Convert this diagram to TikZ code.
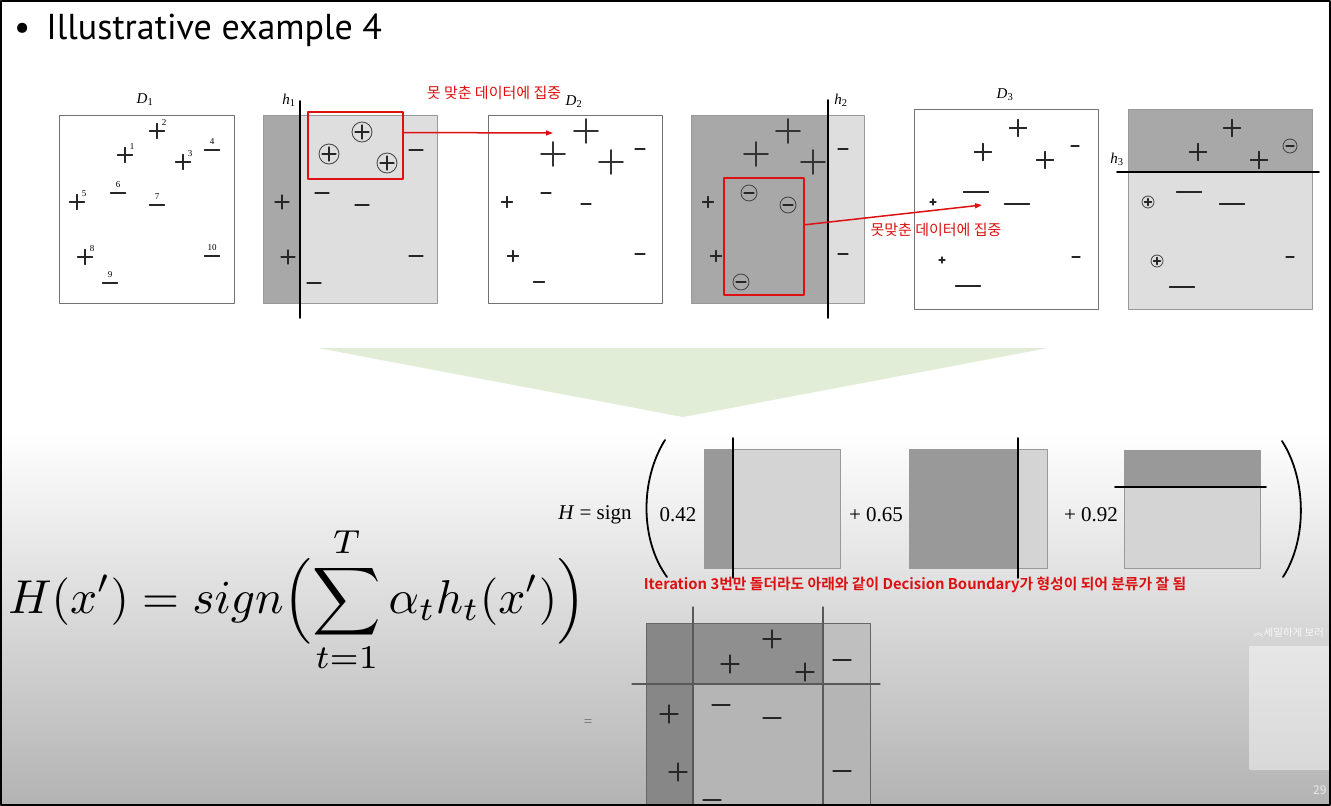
\documentclass[tikz,border=0pt]{standalone}
\usepackage{amsmath}
\usepackage{fontspec}
\usetikzlibrary{arrows.meta}
\newfontfamily\krfont[BoldFont={Noto Sans CJK KR Bold}]{Noto Sans CJK KR}
\newfontfamily\tmsfont{Liberation Serif}
\newfontfamily\ttlfont{PT Sans}
\definecolor{missred}{HTML}{DD1111}
\definecolor{funnel}{HTML}{E2EDD8}
\begin{document}
\begin{tikzpicture}[line cap=round,line join=round,x=1pt,y=-1pt,
    sgn/.style={line width=1.3pt,color=black!85},
    bigsgn/.style={line width=1.7pt,color=black!80},
    ring/.style={line width=0.8pt,color=black!75},
    frame/.style={draw=black!55,line width=1pt},
    sframe/.style={draw=black!40,line width=1pt},
    dark/.style={fill=black!34},
    light/.style={fill=black!13},
    bound/.style={line width=1.6pt,color=black},
    miss/.style={draw=missred,line width=2pt,inner sep=0pt},
    focus/.style={color=missred,line width=1.5pt,-{Triangle[length=7pt,width=5pt]}},
    note/.style={text=missred,font=\krfont\fontsize{15}{16}\selectfont},
    lbl/.style={font=\tmsfont\fontsize{15}{15}\selectfont},
    idx/.style={font=\tmsfont\fontsize{9}{9}\selectfont,inner sep=0pt},
    coef/.style={font=\tmsfont\fontsize{21}{21}\selectfont}]
    \useasboundingbox (0,0) rectangle (1331,806);
    \fill [white] (0,0) rectangle (1331,430);
    \shade [top color=white,bottom color=black!30] (0,430) rectangle (1331,806);
    % title
    \node [font=\ttlfont\fontsize{36}{40}\selectfont,anchor=base west,inner sep=0pt] (title) at (14,39) {\textbullet\hspace{16pt}Illustrative example 4};
    % D1
    \draw [frame] (59,115) rectangle (234,303);
    \node [lbl] (labD1) at (145,100) {\textit{D}\textsubscript{1}};
    \draw [sgn] (125,155) +(-7.5,0) -- +(7.5,0) +(0,-7.5) -- +(0,7.5);
    \draw [sgn] (157,131) +(-7.5,0) -- +(7.5,0) +(0,-7.5) -- +(0,7.5);
    \draw [sgn] (183,162) +(-7.5,0) -- +(7.5,0) +(0,-7.5) -- +(0,7.5);
    \draw [sgn] (212,150) +(-7.5,0) -- +(7.5,0);
    \draw [sgn] (77,202) +(-7.5,0) -- +(7.5,0) +(0,-7.5) -- +(0,7.5);
    \draw [sgn] (118,193) +(-7.5,0) -- +(7.5,0);
    \draw [sgn] (157,205) +(-7.5,0) -- +(7.5,0);
    \draw [sgn] (85,257) +(-7.5,0) -- +(7.5,0) +(0,-7.5) -- +(0,7.5);
    \draw [sgn] (110,283) +(-7.5,0) -- +(7.5,0);
    \draw [sgn] (212,256) +(-7.5,0) -- +(7.5,0);
    \node [idx] (n1) at (132,147) {1};
    \node [idx] (n2) at (164,123) {2};
    \node [idx] (n3) at (190,154) {3};
    \node [idx] (n4) at (212,142) {4};
    \node [idx] (n5) at (84,194) {5};
    \node [idx] (n6) at (118,185) {6};
    \node [idx] (n7) at (157,197) {7};
    \node [idx] (n8) at (92,249) {8};
    \node [idx] (n9) at (110,275) {9};
    \node [idx] (n10) at (212,248) {10};
    % h1
    \fill [dark] (263,115) rectangle (300,303);
    \fill [light] (300,115) rectangle (437,303);
    \draw [sframe] (263,115) rectangle (437,303);
    \draw [bound] (300,101) -- (300,318);
    \node [lbl] (labh1) at (289,100) {\textit{h}\textsubscript{1}};
    \draw [ring] (362,132) circle (10) (329,154) circle (10) (387,163) circle (10);
    \draw [sgn] (362,132) +(-7,0) -- +(7,0) +(0,-7) -- +(0,7);
    \draw [sgn] (329,154) +(-7,0) -- +(7,0) +(0,-7) -- +(0,7);
    \draw [sgn] (387,163) +(-7,0) -- +(7,0) +(0,-7) -- +(0,7);
    \draw [sgn] (416,150) +(-7,0) -- +(7,0);
    \draw [sgn] (322,193) +(-7,0) -- +(7,0);
    \draw [sgn] (362,205) +(-7,0) -- +(7,0);
    \draw [sgn] (282,202) +(-7,0) -- +(7,0) +(0,-7) -- +(0,7);
    \draw [sgn] (288,257) +(-7,0) -- +(7,0) +(0,-7) -- +(0,7);
    \draw [sgn] (314,283) +(-7,0) -- +(7,0);
    \draw [sgn] (416,256) +(-7,0) -- +(7,0);
    % D2
    \draw [frame] (488,115) rectangle (662,303);
    \node [lbl] (labD2) at (574,102) {\textit{D}\textsubscript{2}};
    \draw [bigsgn] (586,131) +(-12,0) -- +(12,0) +(0,-12) -- +(0,12);
    \draw [bigsgn] (553,154) +(-12,0) -- +(12,0) +(0,-12) -- +(0,12);
    \draw [bigsgn] (611,162) +(-12,0) -- +(12,0) +(0,-12) -- +(0,12);
    \draw [sgn] (640,149) +(-5,0) -- +(5,0);
    \draw [sgn] (546,193) +(-5,0) -- +(5,0);
    \draw [sgn] (586,204) +(-5,0) -- +(5,0);
    \draw [sgn] (507,202) +(-5.5,0) -- +(5.5,0) +(0,-5.5) -- +(0,5.5);
    \draw [sgn] (513,256) +(-5.5,0) -- +(5.5,0) +(0,-5.5) -- +(0,5.5);
    \draw [sgn] (640,254) +(-5,0) -- +(5,0);
    \draw [sgn] (539,282) +(-5.5,0) -- +(5.5,0);
    % h2
    \fill [dark] (691,115) rectangle (828,303);
    \fill [light] (828,115) rectangle (864,303);
    \draw [sframe] (691,115) rectangle (864,303);
    \draw [bound] (828,100) -- (828,318);
    \node [lbl] (labh2) at (841,100) {\textit{h}\textsubscript{2}};
    \draw [bigsgn] (788,131) +(-12,0) -- +(12,0) +(0,-12) -- +(0,12);
    \draw [bigsgn] (756,154) +(-12,0) -- +(12,0) +(0,-12) -- +(0,12);
    \draw [bigsgn] (813,162) +(-12,0) -- +(12,0) +(0,-12) -- +(0,12);
    \draw [sgn] (843,149) +(-5,0) -- +(5,0);
    \draw [sgn] (843,254) +(-5,0) -- +(5,0);
    \draw [sgn] (708,202) +(-5.5,0) -- +(5.5,0) +(0,-5.5) -- +(0,5.5);
    \draw [sgn] (716,256) +(-5.5,0) -- +(5.5,0) +(0,-5.5) -- +(0,5.5);
    \draw [ring] (749,193) circle (8) (788,205) circle (8) (741,282) circle (8);
    \draw [sgn] (749,193) +(-5,0) -- +(5,0);
    \draw [sgn] (788,205) +(-5,0) -- +(5,0);
    \draw [sgn] (741,282) +(-5,0) -- +(5,0);
    % D3
    \draw [frame] (914,109) rectangle (1098,309);
    \node [lbl] (labD3) at (1005,95) {\textit{D}\textsubscript{3}};
    \draw [sgn] (1018,128) +(-8.5,0) -- +(8.5,0) +(0,-8.5) -- +(0,8.5);
    \draw [sgn] (983,152) +(-8.5,0) -- +(8.5,0) +(0,-8.5) -- +(0,8.5);
    \draw [sgn] (1045,160) +(-8.5,0) -- +(8.5,0) +(0,-8.5) -- +(0,8.5);
    \draw [sgn] (1075,146) +(-4,0) -- +(4,0);
    \draw [sgn] (1076,257) +(-4,0) -- +(4,0);
    \draw [sgn] (976,192) +(-12.5,0) -- +(12.5,0);
    \draw [sgn] (1017,204) +(-12.5,0) -- +(12.5,0);
    \draw [sgn] (968,286) +(-12.5,0) -- +(12.5,0);
    \draw [sgn] (933,202) +(-3,0) -- +(3,0) +(0,-3) -- +(0,3);
    \draw [sgn] (942,260) +(-3,0) -- +(3,0) +(0,-3) -- +(0,3);
    % h3
    \fill [dark] (1128,109) rectangle (1312,172);
    \fill [light] (1128,172) rectangle (1312,309);
    \draw [sframe] (1128,109) rectangle (1312,309);
    \draw [bound] (1117,172) -- (1319,172);
    \node [lbl] (labh3) at (1117,159) {\textit{h}\textsubscript{3}};
    \draw [sgn] (1232,128) +(-8.5,0) -- +(8.5,0) +(0,-8.5) -- +(0,8.5);
    \draw [sgn] (1198,152) +(-8.5,0) -- +(8.5,0) +(0,-8.5) -- +(0,8.5);
    \draw [sgn] (1259,160) +(-8.5,0) -- +(8.5,0) +(0,-8.5) -- +(0,8.5);
    \draw [ring] (1290,146) circle (7) (1148,202) circle (6) (1157,261) circle (6);
    \draw [sgn] (1290,146) +(-4,0) -- +(4,0);
    \draw [sgn] (1148,202) +(-3.5,0) -- +(3.5,0) +(0,-3.5) -- +(0,3.5);
    \draw [sgn] (1157,261) +(-3.5,0) -- +(3.5,0) +(0,-3.5) -- +(0,3.5);
    \draw [sgn] (1189,192) +(-12.5,0) -- +(12.5,0);
    \draw [sgn] (1232,204) +(-12.5,0) -- +(12.5,0);
    \draw [sgn] (1182,287) +(-12.5,0) -- +(12.5,0);
    \draw [sgn] (1290,257) +(-4,0) -- +(4,0);
    % red marks
    \node [miss,minimum width=95pt,minimum height=67pt] (miss1) at (355.5,145.5) {};
    \node [miss,minimum width=80pt,minimum height=117pt] (miss2) at (764,236.5) {};
    \coordinate (tgt1) at (553,133);
    \coordinate (tgt2) at (982,205);
    \draw [focus] (miss1.15) -- (tgt1);
    \draw [focus] (miss2.16) -- (tgt2);
    \node [note] (note1) at (494,93) {못 맞춘 데이터에 집중};
    \node [note] (note2) at (936,230) {못맞춘 데이터에 집중};
    % funnel
    \fill [funnel] (318,348) -- (1048,348) -- (683,417) -- cycle;
    % weighted sum
    \node [coef] (Hsign) at (595,515) {\textit{H} = sign};
    \draw [line width=1.8pt] (665,440) .. controls (640,480) and (640,540) .. (667,577);
    \draw [line width=1.8pt] (1282,441) .. controls (1307,480) and (1307,540) .. (1283,577);
    \node [coef] (c1) at (678,515) {0.42};
    \fill [black!40] (704,449) rectangle (733,568);
    \fill [black!17] (733,449) rectangle (840,568);
    \draw [sframe] (704,449) rectangle (840,568);
    \draw [bound] (733,438) -- (733,578);
    \node [coef] (c2) at (876,515) {+ 0.65};
    \fill [black!40] (909,449) rectangle (1018,568);
    \fill [black!17] (1018,449) rectangle (1047,568);
    \draw [sframe] (909,449) rectangle (1047,568);
    \draw [bound] (1018,438) -- (1018,578);
    \node [coef] (c3) at (1091,515) {+ 0.92};
    \fill [black!40] (1124,450) rectangle (1260,487);
    \fill [black!17] (1124,487) rectangle (1260,568);
    \draw [sframe] (1124,450) rectangle (1260,568);
    \draw [bound] (1115,487) -- (1266,487);
    \node [note,font=\krfont\bfseries\fontsize{14.8}{15}\selectfont] (note3) at (915,585) {Iteration 3번만 돌더라도 아래와 같이 Decision Boundary가 형성이 되어 분류가 잘 됨};
    % final formula
    \node [scale=4.75,inner sep=0pt] (Hsum) at (297,600) {$\displaystyle H(x')=sign\Bigl(\sum_{t=1}^{T}\alpha_t h_t(x')\Bigr)$};
    % combined classifier
    \node [font=\tmsfont\fontsize{15}{15}\selectfont,text=black!60] (eq) at (588,723) {=};
    \fill [black!47] (646,623) rectangle (693,806);
    \fill [black!44] (693,623) rectangle (823,684);
    \fill [black!25] (823,623) rectangle (870,684);
    \fill [black!29] (693,684) rectangle (870,806);
    \draw [draw=black!60,line width=1pt] (646,806) -- (646,623) -- (870,623) -- (870,806);
    \draw [line width=1.2pt,black!65] (693,607) -- (693,806) (823,607) -- (823,806) (632,684) -- (880,684);
    \draw [sgn] (772,639) +(-9,0) -- +(9,0) +(0,-9) -- +(0,9);
    \draw [sgn] (730,664) +(-9,0) -- +(9,0) +(0,-9) -- +(0,9);
    \draw [sgn] (805,672) +(-9,0) -- +(9,0) +(0,-9) -- +(0,9);
    \draw [sgn] (842,660) +(-9,0) -- +(9,0);
    \draw [sgn] (669,714) +(-9,0) -- +(9,0) +(0,-9) -- +(0,9);
    \draw [sgn] (678,772) +(-9,0) -- +(9,0) +(0,-9) -- +(0,9);
    \draw [sgn] (721,705) +(-9,0) -- +(9,0);
    \draw [sgn] (772,718) +(-9,0) -- +(9,0);
    \draw [sgn] (842,771) +(-9,0) -- +(9,0);
    \draw [sgn] (712,800) +(-9,0) -- +(9,0);
    % player overlay
    \fill [white,opacity=0.45,rounded corners=2pt] (1249,646) rectangle (1331,770);
    \node [font=\krfont\fontsize{10.5}{11}\selectfont,text=white,opacity=0.8,anchor=west,inner sep=0pt] (more) at (1253,633) {︽세밀하게 보러};
    \node [font=\krfont\fontsize{12}{12}\selectfont,text=white,opacity=0.7,anchor=west,inner sep=0pt] (page) at (1313,790) {29};
    \draw [black,line width=2pt] (1,1) rectangle (1330,805);
\end{tikzpicture}
\end{document}
